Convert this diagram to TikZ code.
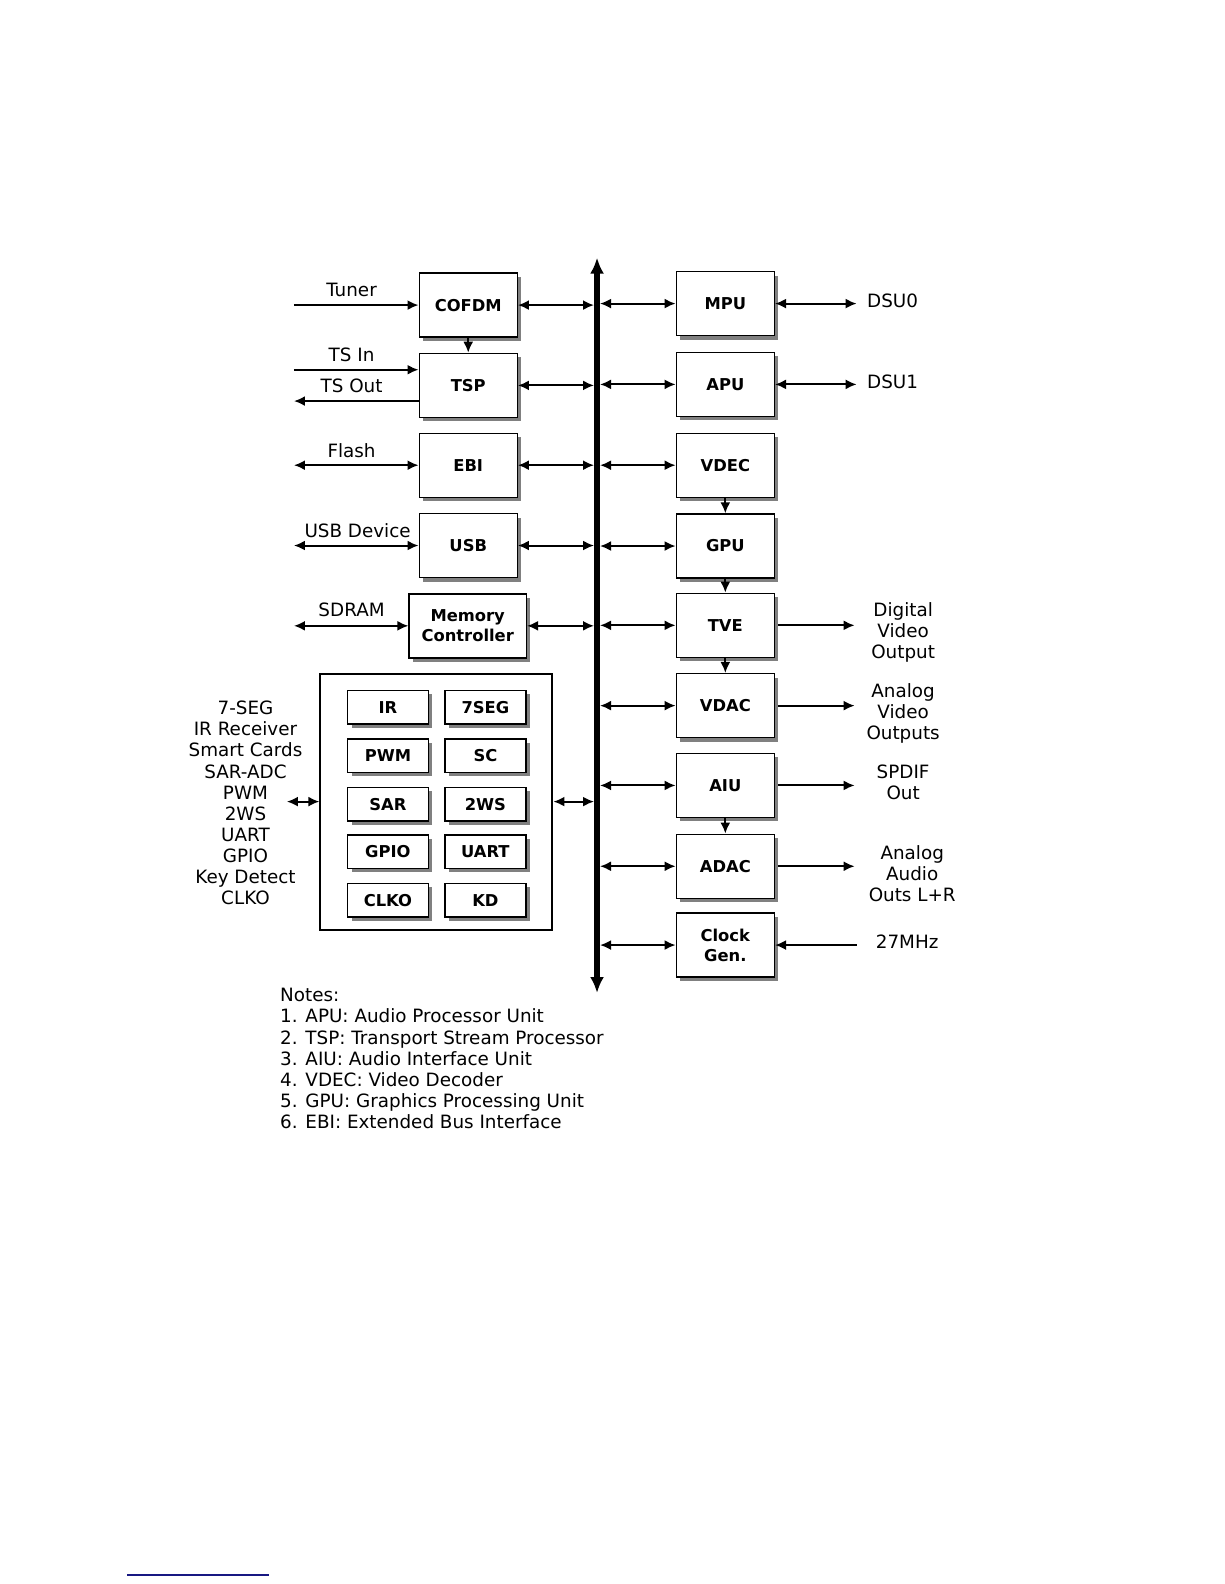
\documentclass[tikz,border=0pt]{standalone}
\usepackage{fontspec}
\setmainfont{DejaVu Sans}
\usetikzlibrary{arrows.meta,calc,positioning,shadows}
\definecolor{rulenavy}{RGB}{24,24,130}

\begin{document}
\begin{tikzpicture}[x=0.505bp,y=-0.505bp,font=\fontsize{9.2}{10.6}\selectfont,
  >={Latex[length=5.5bp,width=5bp]},
  blk/.style={draw,line width=0.7bp,fill=white,font=\fontsize{8.2}{10}\selectfont\bfseries,
    minimum width=49bp,minimum height=32bp,inner sep=1pt,align=center,
    drop shadow={shadow xshift=2bp,shadow yshift=-2bp,fill=black!50,opacity=1}},
  sub/.style={blk,minimum width=40.4bp,minimum height=16.7bp},
  lnk/.style={line width=1bp,<->},
  one/.style={line width=1bp,->},
  lbl/.style={align=center,inner sep=0pt}]
\useasboundingbox (0,0) rectangle (1212,1568);
% system bus
\coordinate (bustop) at (591,255);
\coordinate (busbot) at (591,983);
\draw[line width=3bp,{Latex[length=8bp,width=7bp]}-{Latex[length=8bp,width=7bp]}] (bustop) -- (busbot);
% left column
\node[blk] (cofdm) at (463.5,302) {COFDM};
\node[blk] (tsp) at (463.5,381.5) {TSP};
\node[blk] (ebi) at (463.5,460.5) {EBI};
\node[blk] (usb) at (463.5,540) {USB};
\node[blk,minimum width=58.6bp] (mc) at (463,619.5) {Memory\\Controller};
\node[draw,line width=1bp,minimum width=116bp,minimum height=128bp] (periph) at (432,793.5) {};
\foreach \y/\a/\b/\n in {700/IR/7SEG/1,748/PWM/SC/2,796/SAR/2WS/3,843/GPIO/UART/4,891/CLKO/KD/5} {
  \node[sub] (pl\n) at (384,\y) {\a};
  \node[sub] (pr\n) at (480.5,\y) {\b};
}
% right column
\node[blk] (mpu) at (718,300.5) {MPU};
\node[blk] (apu) at (718,380.5) {APU};
\node[blk] (vdec) at (718,460.5) {VDEC};
\node[blk] (gpu) at (718,540.5) {GPU};
\node[blk] (tve) at (718,619) {TVE};
\node[blk] (vdac) at (718,698.5) {VDAC};
\node[blk] (aiu) at (718,777.5) {AIU};
\node[blk] (adac) at (718,857.5) {ADAC};
\node[blk] (clk) at (718,935.5) {Clock\\Gen.};
% bus links
\foreach \n in {cofdm,tsp,ebi,usb,mc,periph}
  \draw[lnk,shorten >=1.5bp] (\n.east) -- (\n.east -| bustop);
\foreach \n in {mpu,apu,vdec,gpu,tve,vdac,aiu,adac,clk}
  \draw[lnk,shorten <=1.5bp] (\n.west -| bustop) -- (\n.west);
% internal paths
\draw[one] (cofdm.south) -- (tsp.north);
\draw[one] (vdec.south) -- (gpu.north);
\draw[one] (gpu.south) -- (tve.north);
\draw[one] (tve.south) -- (vdac.north);
\draw[one] (aiu.south) -- (adac.north);
% left side signals
\coordinate (tuner) at (291,302);
\coordinate (tsin) at (291,366);
\coordinate (tsout) at (291,397);
\coordinate (flash) at (291,460.5);
\coordinate (usbdev) at (291,540);
\coordinate (sdram) at (291,619.5);
\coordinate (perio) at (284,793.5);
\draw[one] (tuner) -- (tuner -| cofdm.west);
\draw[one] (tsin) -- (tsin -| tsp.west);
\draw[one] (tsout -| tsp.west) -- (tsout);
\draw[lnk] (flash) -- (flash -| ebi.west);
\draw[lnk] (usbdev) -- (usbdev -| usb.west);
\draw[lnk] (sdram) -- (sdram -| mc.west);
\draw[lnk] (perio) -- (periph.west);
\node[lbl] (tunerlbl) at (348,287) {Tuner};
\node[lbl] (tsinlbl) at (348,351) {TS In};
\node[lbl] (tsoutlbl) at (348,382) {TS Out};
\node[lbl] (flashlbl) at (348,446) {Flash};
\node[lbl] (usbdevlbl) at (354,525) {USB Device};
\node[lbl] (sdramlbl) at (348,604) {SDRAM};
\node[lbl] (periolbl) at (243,795) {7-SEG\\IR Receiver\\Smart Cards\\SAR-ADC\\PWM\\2WS\\UART\\GPIO\\Key Detect\\CLKO};
% right side signals
\coordinate (dsu0) at (848,300.5);
\coordinate (dsu1) at (848,380.5);
\coordinate (dvo) at (846,619);
\coordinate (avo) at (846,698.5);
\coordinate (spdif) at (846,777.5);
\coordinate (aao) at (846,857.5);
\coordinate (clkin) at (848,935.5);
\draw[lnk] (dsu0 -| mpu.east) -- (dsu0);
\draw[lnk] (dsu1 -| apu.east) -- (dsu1);
\draw[one,shorten <=1.5bp] (dvo -| tve.east) -- (dvo);
\draw[one,shorten <=1.5bp] (avo -| vdac.east) -- (avo);
\draw[one,shorten <=1.5bp] (spdif -| aiu.east) -- (spdif);
\draw[one,shorten <=1.5bp] (aao -| adac.east) -- (aao);
\draw[one] (clkin) -- (clkin -| clk.east);
\node[lbl,anchor=west] (dsu0lbl) at (858,298) {DSU0};
\node[lbl,anchor=west] (dsu1lbl) at (858,378) {DSU1};
\node[lbl] (dvolbl) at (894,626) {Digital\\Video\\Output};
\node[lbl] (avolbl) at (894,706) {Analog\\Video\\Outputs};
\node[lbl] (spdiflbl) at (894,774.5) {SPDIF\\Out};
\node[lbl] (aaolbl) at (903,865) {Analog\\Audio\\Outs L+R};
\node[lbl] (clkinlbl) at (898,932) {27MHz};
% notes
\node[lbl,align=left,anchor=north west] (notes) at (277,978) {Notes:\\1. APU: Audio Processor Unit\\2. TSP: Transport Stream Processor\\3. AIU: Audio Interface Unit\\4. VDEC: Video Decoder\\5. GPU: Graphics Processing Unit\\6. EBI: Extended Bus Interface};
\draw[rulenavy,line width=1bp] (126,1559) -- (266,1559);
\end{tikzpicture}
\end{document}
